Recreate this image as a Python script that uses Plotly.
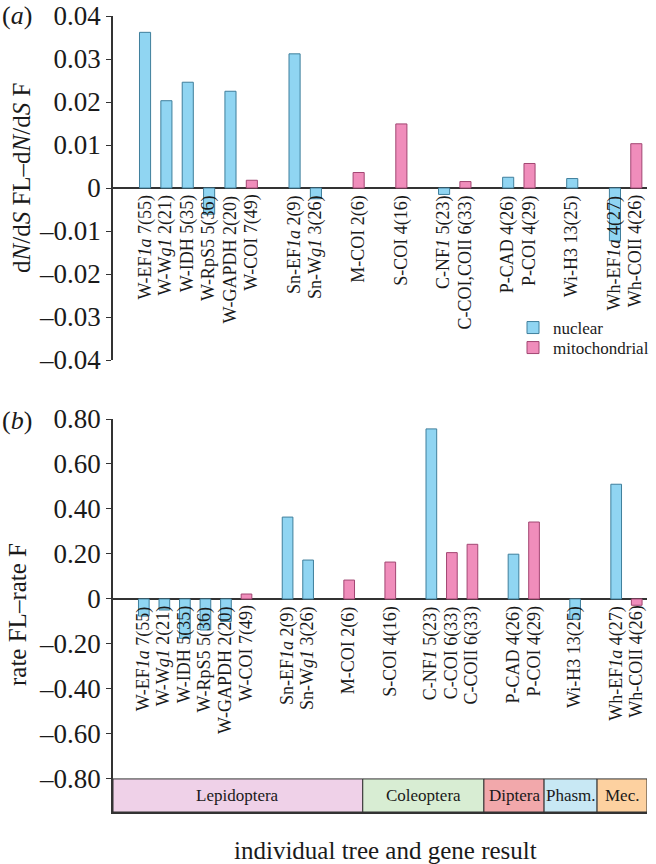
import plotly.graph_objects as go

# ---------------- data ----------------
# Panel (a): dN/dS FL - dN/dS F
labels_a = ["W-EF<i>1a</i> 7(55)", "W-W<i>g1</i> 2(21)", "W-IDH 5(35)", "W-RpS5 5(36)",
            "W-GAPDH 2(20)", "W-COI 7(49)", "Sn-EF<i>1a</i> 2(9)", "Sn-W<i>g1</i> 3(26)",
            "M-COI 2(6)", "S-COI 4(16)", "C-NF<i>1</i> 5(23)", "C-COI,COII 6(33)",
            "P-CAD 4(26)", "P-COI 4(29)", "Wi-H3 13(25)", "Wh-EF<i>1a</i> 4(27)", "Wh-COII 4(26)"]
kinds_a = ["nuclear", "nuclear", "nuclear", "nuclear", "nuclear", "mitochondrial",
           "nuclear", "nuclear", "mitochondrial", "mitochondrial", "nuclear", "mitochondrial",
           "nuclear", "mitochondrial", "nuclear", "nuclear", "mitochondrial"]
values_a = [0.0362, 0.0203, 0.0246, -0.0061, 0.0225, 0.0018, 0.0312, -0.0025,
            0.0036, 0.0149, -0.0015, 0.0015, 0.0025, 0.0057, 0.0022, -0.0123, 0.0103]

# Panel (b): rate FL - rate F
labels_b = ["W-EF<i>1a</i> 7(55)", "W-W<i>g1</i> 2(21)", "W-IDH 5(35)", "W-RpS5 5(36)",
            "W-GAPDH 2(20)", "W-COI 7(49)", "Sn-EF<i>1a</i> 2(9)", "Sn-W<i>g1</i> 3(26)",
            "M-COI 2(6)", "S-COI 4(16)", "C-NF<i>1</i> 5(23)", "C-COI 6(33)", "C-COII 6(33)",
            "P-CAD 4(26)", "P-COI 4(29)", "Wi-H3 13(25)", "Wh-EF<i>1a</i> 4(27)", "Wh-COII 4(26)"]
kinds_b = ["nuclear", "nuclear", "nuclear", "nuclear", "nuclear", "mitochondrial",
           "nuclear", "nuclear", "mitochondrial", "mitochondrial", "nuclear", "mitochondrial",
           "mitochondrial", "nuclear", "mitochondrial", "nuclear", "nuclear", "mitochondrial"]
values_b = [-0.076, -0.049, -0.175, -0.138, -0.100, 0.022, 0.364, 0.173,
            0.084, 0.164, 0.756, 0.206, 0.243, 0.199, 0.342, -0.090, 0.510, -0.028]

ticks_a = [0.04, 0.03, 0.02, 0.01, 0, -0.01, -0.02, -0.03, -0.04]
ticktext_a = ["0.04", "0.03", "0.02", "0.01", "0", "\u20130.01", "\u20130.02", "\u20130.03", "\u20130.04"]
ticks_b = [0.8, 0.6, 0.4, 0.2, 0, -0.2, -0.4, -0.6, -0.8]
ticktext_b = ["0.80", "0.60", "0.40", "0.20", "0", "\u20130.20", "\u20130.40", "\u20130.60", "\u20130.80"]

# insect orders along panel (b) (edges in gene-slot units)
orders = ["Lepidoptera", "Coleoptera", "Diptera", "Phasm.", "Mec."]
order_edges = [-1.5, 10.66, 16.56, 19.49, 22.07, 24.5]
order_colors = ["#EFD1E8", "#D8EDD3", "#F2A8AB", "#C8E8F4", "#FDD1A0"]

# ---------------- styling ----------------
FONT = "Liberation Serif"
TXT = "#1a1a1a"
COL = {"nuclear": ("#90D5F2", "#3F7F9C"), "mitochondrial": ("#F08DBB", "#A24672")}
W, H = 656, 864


def slots(labels):
    pos, s, prev = [], 0, None
    for lab in labels:
        g = lab.split("-")[0]
        if prev is not None:
            s += 2 if g != prev else 1
        pos.append(s)
        prev = g
    return pos


pos_a = slots(labels_a)
pos_b = slots(labels_b)

fig = go.Figure()
for kind in ["nuclear", "mitochondrial"]:
    for (pos, kinds, vals, xa, ya, show) in [(pos_a, kinds_a, values_a, "x", "y", True),
                                              (pos_b, kinds_b, values_b, "x2", "y2", False)]:
        xs = [p for p, k in zip(pos, kinds) if k == kind]
        ys = [v for v, k in zip(vals, kinds) if k == kind]
        fig.add_trace(go.Bar(
            x=xs, y=ys, xaxis=xa, yaxis=ya, width=0.52, name=kind,
            marker=dict(color=COL[kind][0], line=dict(color=COL[kind][1], width=1)),
            showlegend=show, legend="legend" if kind == "nuclear" else "legend2",
        ))

annotations = []
for pos, labs, xa, ya in [(pos_a, labels_a, "x", "y"), (pos_b, labels_b, "x2", "y2")]:
    for p, lab in zip(pos, labs):
        annotations.append(dict(x=p, y=0, xref=xa, yref=ya, text=lab, textangle=-90,
                                xanchor="center", yanchor="top", yshift=-5, showarrow=False,
                                font=dict(family=FONT, size=18, color=TXT)))

shapes = []
for name, x0, x1, c in zip(orders, order_edges[:-1], order_edges[1:], order_colors):
    shapes.append(dict(type="rect", xref="x2", yref="y2", x0=x0, x1=x1, y0=-0.947, y1=-0.80,
                       fillcolor=c, line=dict(color="#333333", width=1), layer="below"))
    annotations.append(dict(x=(x0 + x1) / 2, y=-0.8735, xref="x2", yref="y2", text=name,
                            showarrow=False, font=dict(family=FONT, size=17, color=TXT)))

# panel letters and titles
annotations += [
    dict(x=0, y=1 - 15 / H, xref="paper", yref="paper", text="(<i>a</i>)", showarrow=False,
         xanchor="left", yanchor="middle", font=dict(family=FONT, size=26, color=TXT)),
    dict(x=0, y=1 - 420 / H, xref="paper", yref="paper", text="(<i>b</i>)", showarrow=False,
         xanchor="left", yanchor="middle", font=dict(family=FONT, size=26, color=TXT)),
    dict(x=22 / W, y=1 - 178 / H, xref="paper", yref="paper",
         text="d<i>N</i>/d<i>S</i> FL\u2013d<i>N</i>/d<i>S</i> F",
         textangle=-90, showarrow=False, xanchor="center", yanchor="middle",
         font=dict(family=FONT, size=25, color=TXT)),
    dict(x=17 / W, y=1 - 615 / H, xref="paper", yref="paper", text="rate FL\u2013rate F",
         textangle=-90, showarrow=False, xanchor="center", yanchor="middle",
         font=dict(family=FONT, size=25, color=TXT)),
    dict(x=385 / W, y=1 - 850 / H, xref="paper", yref="paper", text="individual tree and gene result",
         showarrow=False, xanchor="center", yanchor="middle",
         font=dict(family=FONT, size=25, color=TXT)),
]

xdom = [113 / W, 647 / W]
yaxis_common = dict(ticks="outside", ticklen=5, tickwidth=1.3, tickcolor="#333333",
                    showline=True, linecolor="#333333", linewidth=1.5, showgrid=False,
                    zeroline=True, zerolinecolor="#333333", zerolinewidth=1.5, automargin=False,
                    ticklabeloverflow="allow",
                    tickfont=dict(family=FONT, size=27, color=TXT))

fig.update_layout(
    width=W, height=H, margin=dict(l=0, r=0, t=0, b=0, autoexpand=False),
    paper_bgcolor="white", plot_bgcolor="white", barmode="overlay",
    xaxis=dict(domain=xdom, range=[-1.5, 23.5], visible=False, anchor="y", automargin=False),
    yaxis=dict(domain=[1 - 360 / H, 1 - 16 / H], range=[-0.04, 0.04], tickvals=ticks_a,
               ticktext=ticktext_a, anchor="x", **yaxis_common),
    xaxis2=dict(domain=xdom, range=[-1.5, 24.5], anchor="y2", showline=True, linecolor="#333333",
                linewidth=1.5, showticklabels=False, ticks="", showgrid=False, zeroline=False,
                automargin=False),
    yaxis2=dict(domain=[1 - 812 / H, 1 - 419 / H], range=[-0.947, 0.80], tickvals=ticks_b,
                ticktext=ticktext_b, anchor="x2", **yaxis_common),
    shapes=shapes, annotations=annotations,
    legend=dict(x=513 / W, y=1 - 328 / H, xanchor="left", yanchor="middle",
                font=dict(family=FONT, size=17, color=TXT), bgcolor="rgba(0,0,0,0)"),
    legend2=dict(x=513 / W, y=1 - 348 / H, xanchor="left", yanchor="middle",
                 font=dict(family=FONT, size=17, color=TXT), bgcolor="rgba(0,0,0,0)"),
)

fig.write_html("out.html", config={"displayModeBar": False},
               post_script="document.body.style.margin='0px';")
